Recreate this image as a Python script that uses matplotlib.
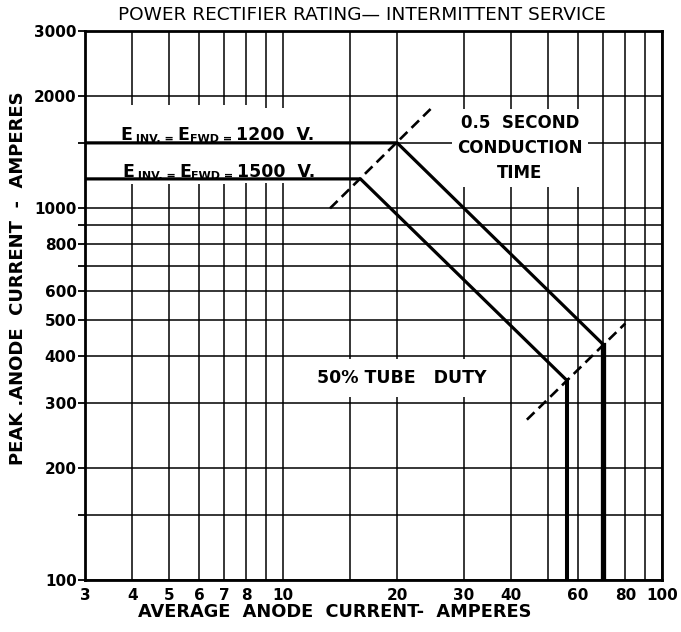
import matplotlib
matplotlib.use('Agg')
import matplotlib.pyplot as plt

# rating curves: flat peak limit, constant-energy slope, vertical average limit
avg_1200v = [3, 20, 70, 70]
peak_1200v = [1500, 1500, 430, 100]
avg_1500v = [3, 16, 56, 56]
peak_1500v = [1200, 1200, 345, 100]

# dashed loci through the knees of the curves
conduction_avg = [13.3, 24.5]
conduction_peak = [1000, 1850]
duty_avg = [44, 80]
duty_peak = [270, 490]

x_grid = [3, 4, 5, 6, 7, 8, 9, 10, 15, 20, 30, 40, 50, 60, 70, 80, 90, 100]
x_labels = [3, 4, 5, 6, 7, 8, 10, 20, 30, 40, 60, 80, 100]
y_grid = [100, 150, 200, 300, 400, 500, 600, 700, 800, 900, 1000, 1500, 2000, 3000]
y_labels = [100, 200, 300, 400, 500, 600, 800, 1000, 2000, 3000]

BIG, SMALL = 12.5, 8
label_1200v = [('E', BIG), (' INV. = ', SMALL), ('E', BIG), ('FWD = ', SMALL), ('1200  V.', BIG)]
label_1500v = [('E', BIG), (' INV. = ', SMALL), ('E', BIG), ('FWD = ', SMALL), ('1500  V.', BIG)]

plt.rcParams['font.family'] = ['DejaVu Sans']


def chained_label(ax, x, y, pieces, pad=None):
    # pieces of mixed size placed one after the other, bottoms aligned.
    # with pad ({size: points}): white boxes only, text kept invisible
    prev = None
    for s, size in pieces:
        kw = dict(fontsize=size, fontweight='bold', ha='left', va='bottom')
        if pad is None:
            kw.update(color='black', zorder=3.2)
        else:
            kw.update(color='white', zorder=3.0,
                      bbox=dict(boxstyle='square,pad=%.2f' % (pad[size] / size),
                                fc='white', ec='none'))
        if prev is None:
            prev = ax.text(x, y, s, transform=ax.transAxes, **kw)
        else:
            prev = ax.annotate(s, xy=(1, 0), xycoords=prev, **kw)


fig = plt.figure(figsize=(6.81, 6.32), dpi=100)
ax = fig.add_axes([85 / 681, 1 - 580 / 632, 577 / 681, 549 / 632])
ax.set_xscale('log')
ax.set_yscale('log')
ax.set_xlim(3, 100)
ax.set_ylim(100, 3000)

ax.set_xticks(x_grid)
ax.set_xticklabels([str(v) if v in x_labels else '' for v in x_grid])
ax.set_yticks(y_grid)
ax.set_yticklabels([str(v) if v in y_labels else '' for v in y_grid])
ax.minorticks_off()
ax.tick_params(axis='x', length=0, pad=6, labelsize=11)
ax.tick_params(axis='y', length=5, width=1.3, pad=1, labelsize=11)
for lab in ax.get_xticklabels() + ax.get_yticklabels():
    lab.set_fontweight('bold')

ax.grid(True, color='black', lw=1.1)
ax.set_axisbelow(True)
for sp in ax.spines.values():
    sp.set_linewidth(2.0)
    sp.set_zorder(5)

# curves
ax.plot(avg_1200v, peak_1200v, color='black', lw=2.3, solid_joinstyle='miter', zorder=4)
ax.plot(avg_1200v[-2:], peak_1200v[-2:], color='black', lw=3.8, zorder=4)
ax.plot(avg_1500v, peak_1500v, color='black', lw=2.3, solid_joinstyle='miter', zorder=4)
ax.plot(avg_1500v[-2:], peak_1500v[-2:], color='black', lw=2.9, zorder=4)

ax.plot(conduction_avg, conduction_peak, color='black', lw=1.9, dashes=(4, 2.2), zorder=4)
ax.plot(duty_avg, duty_peak, color='black', lw=1.9, dashes=(4, 2.2), zorder=4)

# annotations: white background first, then the lettering on top
chained_label(ax, 0.061, 0.794, label_1200v, pad={BIG: 13, SMALL: 21})
chained_label(ax, 0.064, 0.727, label_1500v, pad={BIG: 1.5, SMALL: 2.5})
chained_label(ax, 0.061, 0.794, label_1200v)
chained_label(ax, 0.064, 0.727, label_1500v)

ax.text(0.754, 0.787, '0.5  SECOND\nCONDUCTION\nTIME', transform=ax.transAxes,
        ha='center', va='center', fontsize=12, fontweight='bold', linespacing=1.5,
        zorder=3, bbox=dict(boxstyle='square,pad=0.3', fc='white', ec='none'))
ax.text(0.549, 0.368, '50% TUBE   DUTY', transform=ax.transAxes,
        ha='center', va='center', fontsize=12.5, fontweight='bold',
        zorder=3, bbox=dict(boxstyle='square,pad=0.6', fc='white', ec='none'))

fig.text(362 / 681, 1 - 15 / 632, 'POWER RECTIFIER RATING\u2014 INTERMITTENT SERVICE',
         ha='center', va='center', fontsize=13.3)
fig.text(335 / 681, 1 - 612 / 632, 'AVERAGE  ANODE  CURRENT-  AMPERES',
         ha='center', va='center', fontsize=12.8, fontweight='bold')
fig.text(18 / 681, 1 - 278 / 632, 'PEAK .ANODE  CURRENT  -  AMPERES', rotation=90,
         ha='center', va='center', fontsize=13, fontweight='bold')

fig.savefig('out.png', dpi=100)
